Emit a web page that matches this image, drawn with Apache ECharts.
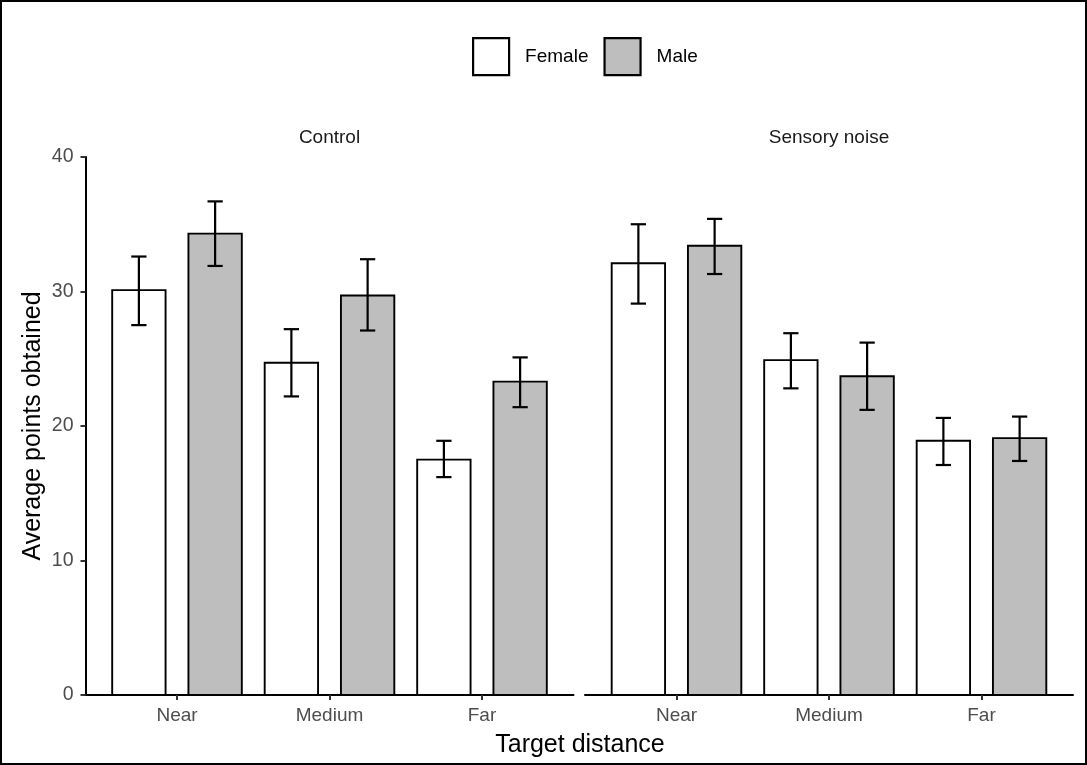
<!DOCTYPE html>
<html>
<head>
<meta charset="utf-8">
<script src="https://cdn.jsdelivr.net/npm/echarts@6/dist/echarts.min.js"></script>
<style>
html,body{margin:0;padding:0;background:#fff;}
#chart{width:1087px;height:765px;}
</style>
</head>
<body>
<div id="chart"></div>
<script>
// ---- data ----
var categories = ['Near', 'Medium', 'Far'];
var panels = ['Control', 'Sensory noise'];
var sexes = ['Female', 'Male'];

var controlFemale   = [30.1, 24.7, 17.5];
var controlFemaleLo = [27.5, 22.2, 16.2];
var controlFemaleHi = [32.6, 27.2, 18.9];

var controlMale   = [34.3, 29.7, 23.3];
var controlMaleLo = [31.9, 27.1, 21.4];
var controlMaleHi = [36.7, 32.4, 25.1];

var noiseFemale   = [32.1, 24.9, 18.9];
var noiseFemaleLo = [29.1, 22.8, 17.1];
var noiseFemaleHi = [35.0, 26.9, 20.6];

var noiseMale   = [33.4, 23.7, 19.1];
var noiseMaleLo = [31.3, 21.2, 17.4];
var noiseMaleHi = [35.4, 26.2, 20.7];

var yTicks = [0, 10, 20, 30, 40];
var xTitle = 'Target distance';
var yTitle = 'Average points obtained';

// ---- layout / style ----
var FONT = "'Liberation Sans', Arial, sans-serif";
var fills = { Female: '#FFFFFF', Male: '#BEBEBE' };
var offsets = { Female: -0.25, Male: 0.25 };
var BAR_HALF = 0.175;
var CAP_HALF = 0.05;
var tickPos = categories.map(function (_, i) { return i + 1; });

function rows(mean, lo, hi) {
  return categories.map(function (_, i) { return [i + 1, mean[i], lo[i], hi[i]]; });
}

function makeRender(sex) {
  var off = offsets[sex];
  return function (params, api) {
    var c = api.value(0) + off;
    var mean = api.value(1), lo = api.value(2), hi = api.value(3);
    var p0 = api.coord([c - BAR_HALF, 0]);
    var p1 = api.coord([c + BAR_HALF, mean]);
    var cx = api.coord([c, 0])[0];
    var yLo = api.coord([c, lo])[1];
    var yHi = api.coord([c, hi])[1];
    var capL = api.coord([c - CAP_HALF, 0])[0];
    var capR = api.coord([c + CAP_HALF, 0])[0];
    var line = { stroke: '#000', lineWidth: 2.2, fill: null };
    return {
      type: 'group',
      children: [
        { type: 'rect', shape: { x: p0[0], y: p1[1], width: p1[0] - p0[0], height: p0[1] - p1[1] },
          style: { fill: fills[sex], stroke: '#000', lineWidth: 1.9 } },
        { type: 'line', shape: { x1: cx, y1: yLo, x2: cx, y2: yHi }, style: line },
        { type: 'line', shape: { x1: capL, y1: yLo, x2: capR, y2: yLo }, style: line },
        { type: 'line', shape: { x1: capL, y1: yHi, x2: capR, y2: yHi }, style: line }
      ]
    };
  };
}

function series(name, gi, data) {
  return {
    name: name, type: 'custom', xAxisIndex: gi, yAxisIndex: gi,
    renderItem: makeRender(name),
    itemStyle: { color: fills[name], borderColor: '#000', borderWidth: 2 },
    encode: { x: 0, y: [1, 2, 3] },
    data: data, clip: false, silent: true
  };
}

function xAxis(gi) {
  return {
    type: 'value', gridIndex: gi, min: 0.4, max: 3.6,
    splitLine: { show: false },
    axisLine: { show: true, onZero: false, lineStyle: { color: '#000', width: 2 } },
    axisTick: { show: true, length: 5, customValues: tickPos, lineStyle: { color: '#333', width: 2 } },
    axisLabel: {
      customValues: tickPos, margin: 11, color: '#4D4D4D', fontSize: 19, fontFamily: FONT,
      formatter: function (v) { return categories[Math.round(v) - 1]; }
    }
  };
}

var grids = [
  { left: 85.5, top: 157, width: 488, height: 538 },
  { left: 585, top: 157, width: 488, height: 538 }
];

var option = {
  backgroundColor: '#fff',
  animation: false,
  textStyle: { fontFamily: FONT },
  grid: grids,
  legend: {
    left: 472, top: 37, padding: 0,
    itemWidth: 36, itemHeight: 37, itemGap: 15,
    icon: 'rect',
    textStyle: { fontSize: 19, color: '#000', fontFamily: FONT, padding: [5, 0, 0, 11] },
    selectedMode: false,
    data: sexes.map(function (s) {
      return { name: s, itemStyle: { color: fills[s], borderColor: '#000', borderWidth: 2.2 } };
    })
  },
  xAxis: [xAxis(0), xAxis(1)],
  yAxis: [
    {
      type: 'value', gridIndex: 0, min: yTicks[0], max: yTicks[yTicks.length - 1], interval: 10,
      splitLine: { show: false },
      axisLine: { show: true, lineStyle: { color: '#000', width: 2 } },
      axisTick: { show: true, length: 5, lineStyle: { color: '#333', width: 2 } },
      axisLabel: { margin: 12, color: '#4D4D4D', fontSize: 19.5, fontFamily: FONT },
      name: yTitle, nameLocation: 'middle', nameGap: 40,
      nameTextStyle: { fontSize: 25, color: '#000', fontFamily: FONT }
    },
    {
      type: 'value', gridIndex: 1, min: yTicks[0], max: yTicks[yTicks.length - 1], interval: 10,
      show: false
    }
  ],
  graphic: [
    { type: 'rect', silent: true, shape: { x: 1, y: 1, width: 1085, height: 763 },
      style: { fill: null, stroke: '#000', lineWidth: 2 } },
    { type: 'text', silent: true, x: 85.5 + 244, y: 138,
      style: { text: panels[0], fontSize: 19, fill: '#1A1A1A', fontFamily: FONT, textAlign: 'center', textVerticalAlign: 'middle' } },
    { type: 'text', silent: true, x: 585 + 244, y: 138,
      style: { text: panels[1], fontSize: 19, fill: '#1A1A1A', fontFamily: FONT, textAlign: 'center', textVerticalAlign: 'middle' } },
    { type: 'text', silent: true, x: 580, y: 745,
      style: { text: xTitle, fontSize: 25, fill: '#000', fontFamily: FONT, textAlign: 'center', textVerticalAlign: 'middle' } }
  ],
  series: [
    series('Female', 0, rows(controlFemale, controlFemaleLo, controlFemaleHi)),
    series('Male', 0, rows(controlMale, controlMaleLo, controlMaleHi)),
    series('Female', 1, rows(noiseFemale, noiseFemaleLo, noiseFemaleHi)),
    series('Male', 1, rows(noiseMale, noiseMaleLo, noiseMaleHi))
  ]
};

var chart = echarts.init(document.getElementById('chart'), null, { renderer: 'canvas' });
chart.setOption(option);
</script>
</body>
</html>
